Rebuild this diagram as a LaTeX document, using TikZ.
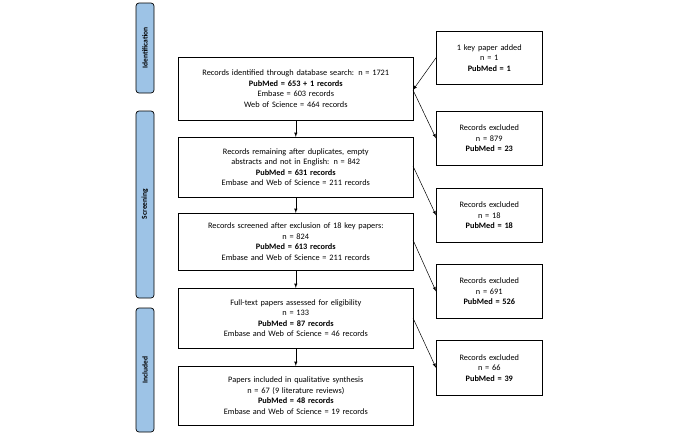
\documentclass[tikz,border=0pt]{standalone}
\usepackage{fontspec}
\setmainfont{Carlito}
\begin{document}
\begin{tikzpicture}[x=1pt,y=-1pt,
 box/.style={draw,line width=0.6pt,align=center,font=\fontsize{8.3}{10.5}\selectfont,inner sep=2pt,anchor=north west},
 side/.style={draw,line width=0.7pt,rounded corners=3pt,fill=blue!35!cyan!30!white,fill=SideBlue},
 arr/.style={-latex,line width=0.5pt},
]
\definecolor{SideBlue}{RGB}{157,195,230}
\useasboundingbox (0,0) rectangle (680,437);
\newcommand{\mybox}[6]{\node[box,minimum width=#3-#1,minimum height=#4-#2,text width=#3-#1-6] (#5) at (#1,#2) {#6};}
\mybox{178}{57}{413}{120}{b1}{Records identified through database search: n = 1721\\\textbf{PubMed = 653 + 1 records}\\Embase = 603 records\\Web of Science = 464 records}
\mybox{178}{137}{413}{197}{b2}{Records remaining after duplicates, empty abstracts and not in English: n = 842\\\textbf{PubMed = 631 records}\\Embase and Web of Science = 211 records}
\mybox{178}{213}{413}{270}{b3}{Records screened after exclusion of 18 key papers:\\n = 824\\\textbf{PubMed = 613 records}\\Embase and Web of Science = 211 records}
\mybox{178}{288}{413}{348}{b4}{Full-text papers assessed for eligibility\\n = 133\\\textbf{PubMed = 87 records}\\Embase and Web of Science = 46 records}
\mybox{178}{366}{413}{425}{b5}{Papers included in qualitative synthesis\\n = 67 (9 literature reviews)\\\textbf{PubMed = 48 records}\\Embase and Web of Science = 19 records}
\mybox{436}{31}{542}{84}{r0}{1 key paper added\\n = 1\\\textbf{PubMed = 1}}
\mybox{436}{111}{542}{165}{r1}{Records excluded\\n = 879\\\textbf{PubMed = 23}}
\mybox{436}{188}{542}{242}{r2}{Records excluded\\n = 18\\\textbf{PubMed = 18}}
\mybox{436}{264}{542}{318}{r3}{Records excluded\\n = 691\\\textbf{PubMed = 526}}
\mybox{436}{340}{542}{395}{r4}{Records excluded\\n = 66\\\textbf{PubMed = 39}}
\foreach \a/\b in {b1/b2,b2/b3,b3/b4,b4/b5} \draw[arr] (\a.south) -- (\b.north);
\coordinate (p1) at (413,90);
\draw[arr] (r0.west) -- (p1);
\draw[arr] (p1) -- (r1.west);
\draw[arr] (413,166) -- (r2.west);
\draw[arr] (413,240) -- (r3.west);
\draw[arr] (413,318) -- (r4.west);
\tikzset{sl/.style={rotate=90,font=\fontsize{7.5}{9}\bfseries\selectfont}}
\draw[side] (136,3) rectangle (154,93); \node[sl] (s1) at (145,48) {Identification};
\draw[side] (136,111) rectangle (154,298); \node[sl] (s2) at (145,204) {Screening};
\draw[side] (136,308) rectangle (154,432); \node[sl] (s3) at (145,370) {Included};
\end{tikzpicture}
\end{document}
